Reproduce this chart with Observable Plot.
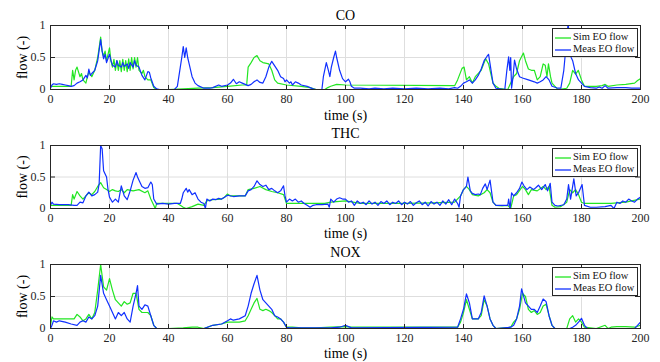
<!DOCTYPE html>
<html>
<head>
<meta charset="utf-8">
<script src="https://cdn.jsdelivr.net/npm/d3@7"></script>
<script src="https://cdn.jsdelivr.net/npm/@observablehq/plot@0.6"></script>
<style>
  html, body { margin: 0; padding: 0; background: #fff; }
  #wrap { width: 660px; height: 362px; position: relative; overflow: hidden; background: #fff; }
  .panel { position: relative; width: 660px; }
  .panel svg { display: block; overflow: visible; background: transparent; }
  .panel svg text { font-family: "Liberation Serif", "DejaVu Serif", serif !important; }
  .legend { position: absolute; left: 552px; width: 86px; height: 29px; background: #fff;
            border: 1px solid #262626; box-sizing: border-box; font-family: "Liberation Serif", "DejaVu Serif", serif;
            font-size: 10.5px; color: #111; z-index: 2; }
  .legend .row { position: absolute; left: 2px; height: 12px; line-height: 12px; white-space: nowrap; }
  .legend .row svg { display: inline-block; vertical-align: middle; margin-right: 2px; }
</style>
</head>
<body>
<div id="wrap"></div>
<script>
const xTicks = [0, 20, 40, 60, 80, 100, 120, 140, 160, 180, 200];
const yTicks = [0, 0.5, 1];
const titles = ["CO", "THC", "NOX"];
const seriesNames = ["Sim EO flow", "Meas EO flow"];
const simColor = "#22e622";
const measColor = "#1030ff";

const coMeas = [[0,0.02],[0.5,0.07],[1,0.09],[2,0.08],[3,0.09],[4,0.08],[5,0.07],[6,0.06],[7,0.05],[8,0.06],[9,0.1],[10,0.12],[11,0.15],[12,0.22],[12.5,0.18],[13,0.32],[13.5,0.22],[14,0.25],[15,0.3],[16,0.45],[17,0.78],[17.5,0.6],[18,0.48],[18.5,0.55],[19,0.42],[20,0.55],[20.5,0.45],[21,0.38],[22,0.35],[22.5,0.45],[23,0.38],[24,0.35],[24.5,0.42],[25,0.36],[26,0.4],[26.5,0.33],[27,0.42],[28,0.35],[28.5,0.45],[29,0.38],[30,0.35],[31,0.22],[32,0.15],[33,0.28],[33.5,0.27],[34,0.18],[35,0.05],[36,0.01],[37,0],[42,0],[43,0.05],[44,0.35],[44.5,0.5],[45,0.67],[45.5,0.5],[46,0.65],[46.5,0.5],[47,0.4],[48,0.2],[49,0.1],[50,0.06],[52,0.02],[54,0.02],[55,0.03],[57,0.07],[58,0.05],[60,0.07],[61,0.1],[62,0.16],[63,0.09],[64,0.12],[65,0.1],[67,0.06],[68,0.08],[69,0.12],[70,0.15],[71,0.11],[72,0.1],[73,0.2],[74,0.35],[75,0.44],[76,0.37],[77,0.3],[78,0.2],[79,0.17],[79.5,0.12],[80,0.15],[81,0.1],[81.5,0.12],[82,0.07],[83,0.12],[84,0.1],[85,0.07],[87,0.05],[88,0.03],[89,0.01],[90,0],[92,0],[92.5,0.2],[93.5,0.42],[94.2,0.3],[94.7,0.2],[95.2,0.35],[96,0.5],[96.6,0.6],[97,0.5],[98,0.3],[99,0.17],[100,0.12],[101,0.16],[101.5,0.12],[102,0.05],[103,0.02],[105,0.02],[108,0.01],[110,0.02],[113,0.01],[116,0.02],[120,0.01],[124,0.02],[128,0.01],[132,0.02],[135,0.01],[137,0.03],[138,0.02],[139,0.05],[140,0.1],[141,0.12],[142,0.15],[143,0.1],[144,0.15],[145,0.22],[146,0.32],[147,0.45],[148,0.52],[148.5,0.55],[149,0.4],[150,0.1],[151,0.02],[154,0],[154.7,0.3],[155.3,0.51],[155.7,0.3],[156,0.5],[156.3,0.02],[156.8,0.2],[157.3,0.46],[158,0.32],[159,0.2],[160,0.18],[162,0.15],[164,0.12],[165,0.1],[166,0.12],[167,0.15],[168,0.2],[169,0.15],[170,0.05],[172,0.02],[173,0.02],[174,0.3],[175,0.8],[175.5,1.05],[176,0.6],[176.5,0.5],[177,0.45],[178,0.25],[179,0.15],[180,0.1],[181,0.05],[183,0.03],[185,0.02],[186,0.04],[187,0.02],[188,0.06],[189,0.02],[192,0.03],[195,0.03],[197,0.02],[200,0.02]];
const coSim = [[0,0.05],[7,0.05],[7.5,0.3],[8,0.15],[8.5,0.3],[9,0.35],[10,0.2],[10.5,0.25],[11,0.15],[12,0.1],[12.5,0.2],[13,0.27],[14,0.2],[15,0.3],[16,0.5],[17,0.82],[17.5,0.6],[18,0.52],[18.5,0.6],[19,0.45],[19.5,0.55],[20,0.65],[20.5,0.45],[21,0.35],[21.5,0.47],[22,0.3],[22.5,0.45],[23,0.3],[23.5,0.45],[24,0.28],[24.5,0.47],[25,0.3],[25.5,0.45],[26,0.28],[26.5,0.48],[27,0.3],[27.5,0.5],[28,0.32],[28.5,0.5],[29,0.35],[29.5,0.5],[30,0.3],[31,0.25],[31.5,0.3],[32,0.2],[33,0.15],[34,0.15],[35,0.03],[36,0],[40,0],[45,0.01],[50,0.02],[55,0.03],[60,0.05],[65,0.07],[66.5,0.07],[67,0.35],[68,0.42],[69,0.5],[70,0.53],[71,0.45],[72,0.42],[74,0.4],[75,0.3],[76,0.15],[77,0.1],[80,0.07],[85,0.05],[88,0.03],[90,0],[93,0],[94,0.03],[95,0.05],[97,0.08],[100,0.07],[137,0.06],[138,0.15],[139.5,0.33],[140.2,0.35],[141,0.15],[142,0.2],[143,0.1],[144,0.2],[146,0.3],[147.5,0.48],[148.5,0.4],[149,0.3],[150,0.1],[151,0.05],[152,0.02],[155,0],[156,0.1],[157,0.2],[158,0.25],[159,0.45],[160.3,0.57],[161,0.45],[162,0.32],[163,0.3],[164,0.3],[165,0.15],[166,0.2],[167,0.4],[167.7,0.38],[168.3,0.2],[168.8,0.4],[169.5,0.2],[170,0.1],[171,0.05],[172,0],[175,0.02],[176,0.1],[177,0.3],[178,0.24],[178.9,0.3],[180,0.15],[181,0.05],[183,0.05],[185,0.05],[187,0.06],[188,0.08],[189,0.05],[192,0.07],[195,0.08],[198,0.1],[199,0.14],[200,0.17]];

const thcMeas = [[0,0.05],[0.5,0.1],[1,0.07],[3,0.06],[6,0.06],[8,0.05],[9,0.05],[10,0.1],[11,0.09],[12,0.2],[13,0.26],[14,0.2],[15,0.22],[16,0.26],[16.5,0.4],[17,1.0],[17.5,0.95],[18,0.6],[19,0.5],[19.5,0.3],[20,0.18],[21,0.1],[22,0.15],[23,0.1],[24,0.36],[25,0.2],[26,0.14],[27,0.28],[28,0.45],[29,0.57],[29.5,0.5],[30,0.45],[31,0.35],[32,0.32],[33,0.33],[34,0.42],[34.5,0.38],[35,0.15],[36,0.07],[38,0.08],[40,0.07],[42,0.08],[44,0.08],[44.5,0.15],[45,0.25],[46,0.32],[46.5,0.26],[47,0.3],[48,0.22],[49,0.25],[50,0.15],[51,0.1],[52,0.08],[52.5,0],[53,0.15],[54,0.12],[55,0.15],[56,0.14],[57,0.16],[58,0.15],[59,0.18],[60,0.21],[62,0.19],[64,0.2],[66,0.2],[67,0.28],[68,0.3],[69,0.35],[70,0.44],[71,0.38],[72,0.35],[73,0.37],[74,0.3],[75,0.32],[76,0.28],[77,0.25],[78,0.28],[79,0.36],[79.5,0.2],[80,0.1],[81,0.15],[82,0.12],[83,0.15],[84,0.1],[85,0.12],[86,0.08],[87,0.05],[88,0.02],[89,0.05],[90,0.06],[92,0.06],[94,0.07],[94.5,0.02],[95,0.15],[96,0.1],[97,0.15],[98,0.17],[99,0.15],[100,0.15],[101,0.1],[102,0.12],[103,0.05],[104,0.12],[105,0.08],[106,0.1],[107,0.06],[108,0.12],[109,0.07],[110,0.1],[111,0.05],[112,0.11],[113,0.08],[114,0.12],[115,0.06],[116,0.1],[117,0.08],[118,0.12],[119,0.06],[120,0.1],[121,0.07],[122,0.11],[123,0.05],[124,0.09],[125,0.12],[126,0.06],[127,0.1],[128,0.04],[129,0.11],[130,0.07],[131,0.1],[132,0.05],[133,0.12],[134,0.07],[135,0.14],[136,0.06],[137,0.15],[138,0.08],[138.5,0.02],[139,0.2],[140,0.3],[141,0.35],[141.5,0.5],[142.3,0.28],[143,0.24],[144,0.22],[145,0.23],[145.7,0.22],[146.5,0.32],[147.4,0.39],[148,0.3],[149,0.45],[150,0.1],[151,0.05],[153,0.05],[155,0.05],[155.3,0.15],[155.8,0],[156.3,0.25],[157,0.2],[158,0.25],[159,0.32],[159.8,0.42],[160.5,0.36],[161.5,0.3],[162.5,0.34],[163.7,0.3],[164.5,0.33],[165.4,0.37],[166.5,0.3],[167.7,0.38],[168.5,0.28],[169.4,0.4],[170,0.1],[171,0.05],[172,0.04],[174,0.06],[175,0.15],[175.6,0.38],[176.3,0.15],[177.4,0.47],[178.2,0.2],[179,0.25],[180.2,0.38],[181,0.05],[183,0.02],[185,0.02],[188,0.03],[190,0.05],[191,0],[192,0.1],[193,0.08],[194,0.12],[195,0.1],[196,0.15],[197,0.12],[198,0.1],[199,0.15],[200,0.18]];
const thcSim = [[0,0.05],[7,0.05],[7.5,0.22],[8,0.15],[9,0.27],[10,0.2],[11,0.15],[12,0.2],[13,0.25],[14,0.22],[15,0.27],[16,0.35],[17,0.41],[18,0.33],[19,0.3],[20,0.27],[21,0.3],[22,0.28],[23,0.27],[24,0.3],[25,0.25],[26,0.3],[28,0.28],[30,0.3],[32,0.25],[33,0.28],[34,0.15],[35,0.05],[35.5,0],[36,0.08],[40,0.08],[43,0.08],[44,0.05],[45,0.02],[46,0],[48,0.03],[50,0.07],[52,0.05],[53,0.12],[55,0.14],[58,0.15],[59,0.18],[60,0.23],[61,0.2],[63,0.2],[66,0.2],[67,0.3],[69,0.32],[71,0.35],[73,0.3],[75,0.27],[77,0.25],[79,0.22],[80,0.08],[85,0.08],[88,0.08],[90,0.08],[93,0.08],[95,0.1],[100,0.12],[105,0.08],[110,0.08],[120,0.08],[130,0.09],[137,0.1],[139,0.2],[140,0.3],[141,0.35],[142,0.3],[143,0.22],[145,0.2],[147,0.25],[148,0.3],[149,0.25],[150,0.1],[151,0.05],[153,0.04],[155,0.05],[156,0],[157,0.2],[158,0.22],[160,0.35],[161,0.3],[162,0.22],[163,0.3],[165,0.28],[167,0.35],[168,0.3],[169,0.35],[170,0.05],[171,0.02],[173,0.03],[175,0.1],[176,0.3],[177,0.25],[178,0.3],[179,0.22],[180,0.1],[181,0.08],[185,0.08],[190,0.08],[195,0.1],[200,0.15]];

const noxMeas = [[0,0],[0.5,0.05],[1,0.12],[2,0.1],[3,0.12],[5,0.1],[7,0.07],[9,0.05],[10,0.1],[11,0.12],[12,0.1],[13,0.18],[14,0.15],[15,0.2],[16,0.35],[17,0.83],[18,0.55],[19,0.45],[20,0.35],[21,0.25],[22,0.15],[23,0.25],[24,0.2],[25,0.25],[26,0.15],[27,0.1],[28,0.35],[29,0.55],[29.5,0.67],[30,0.35],[31,0.3],[32,0.37],[33,0.35],[34,0.2],[35,0.05],[36,0],[50,0],[52,0],[55,0.05],[58,0.07],[60,0.12],[61,0.15],[62,0.13],[64,0.15],[66,0.2],[67,0.35],[68,0.55],[69,0.7],[70,0.83],[71,0.6],[72,0.45],[73,0.4],[74,0.35],[75,0.3],[76,0.2],[77,0.18],[78,0.15],[79,0.1],[80,0.02],[81,0.01],[95,0.01],[98,0.02],[100,0.05],[101,0.03],[102,0.01],[138,0.02],[139,0.15],[140,0.3],[141,0.54],[142,0.4],[143,0.15],[145,0.15],[146,0.25],[147,0.51],[148,0.35],[149,0.15],[150,0.05],[151,0],[156,0.02],[157,0.05],[158,0.15],[159,0.35],[159.7,0.62],[161,0.4],[162,0.35],[163,0.3],[164,0.3],[165,0.25],[166,0.35],[167,0.46],[168,0.42],[169,0.2],[170,0.05],[171,0],[176,0],[177,0.02],[178,0.05],[179,0.1],[180,0.16],[181,0.05],[182,0],[198,0],[199,0.05],[200,0.1]];
const noxSim = [[0,0.05],[0.5,0.18],[1,0.15],[3,0.15],[5,0.15],[7,0.15],[8,0.15],[9,0.22],[10,0.18],[11,0.12],[12,0.15],[13,0.22],[14,0.15],[15,0.25],[16,0.6],[17,1.0],[18,0.65],[19,0.6],[20,0.78],[21,0.6],[22,0.45],[23,0.4],[24,0.35],[25,0.42],[26,0.38],[27,0.4],[28,0.55],[29,0.55],[30,0.3],[31,0.25],[32,0.25],[33,0.25],[34,0.2],[35,0.05],[36,0],[40,0],[45,0.01],[48,0.02],[50,0.02],[52,0],[55,0.05],[58,0.07],[60,0.1],[62,0.1],[64,0.1],[66,0.12],[67,0.2],[68,0.3],[69,0.4],[70,0.47],[71,0.3],[72,0.28],[73,0.3],[74,0.28],[75,0.25],[76,0.2],[77,0.15],[78,0.15],[79,0.1],[80,0.02],[82,0.02],[85,0.01],[90,0.01],[95,0.02],[100,0.03],[102,0.02],[138,0.02],[139,0.1],[140,0.25],[141,0.45],[142,0.3],[143,0.15],[145,0.15],[146,0.2],[147,0.45],[148,0.35],[149,0.15],[150,0.05],[151,0],[156,0.02],[157,0.1],[158,0.15],[159,0.3],[160,0.55],[161,0.5],[162,0.3],[163,0.25],[164,0.28],[165,0.22],[166,0.25],[167,0.35],[168,0.38],[169,0.2],[170,0.05],[171,0],[175,0],[176,0.15],[177,0.2],[178,0.1],[179,0.15],[180,0.1],[181,0.02],[185,0],[188,0.05],[189,0],[190,0.02],[192,0.03],[195,0.03],[198,0.02],[200,0.05]];

const panels = [
  {title: titles[0], sim: coSim, meas: coMeas, height: 120, mt: 25, mb: 31, tdy: -10, xdy: 26},
  {title: titles[1], sim: thcSim, meas: thcMeas, height: 120, mt: 25, mb: 32, tdy: -12, xdy: 25},
  {title: titles[2], sim: noxSim, meas: noxMeas, height: 122, mt: 24, mb: 34, tdy: -12, xdy: 25}
];

const wrap = document.getElementById("wrap");
const ML = 50, MR = 20, W = 660;
const plotW = W - ML - MR;
const axisColor = "#262626";
const serif = "'Liberation Serif', 'DejaVu Serif', serif";

function swatch(color) {
  return `<svg width="16" height="4"><line x1="0" x2="16" y1="2" y2="2" stroke="${color}" stroke-width="1.3"/></svg>`;
}

for (const p of panels) {
  const plotH = p.height - p.mt - p.mb;
  const chart = Plot.plot({
    width: W, height: p.height,
    marginLeft: ML, marginRight: MR, marginTop: p.mt, marginBottom: p.mb,
    style: {fontFamily: serif, fontSize: "12px", color: axisColor, background: "transparent", overflow: "visible"},
    x: {domain: [0, 200], axis: null},
    y: {domain: [0, 1], axis: null},
    marks: [
      Plot.gridX(xTicks, {stroke: "#dedede", strokeOpacity: 1}),
      Plot.gridY(yTicks, {stroke: "#dedede", strokeOpacity: 1}),
      Plot.line(p.sim, {x: d => d[0], y: d => d[1], stroke: simColor, strokeWidth: 1.2, clip: true}),
      Plot.line(p.meas, {x: d => d[0], y: d => d[1], stroke: measColor, strokeWidth: 1.2, clip: true}),
      Plot.ruleX(xTicks, {x: d => d, insetTop: plotH - 4, stroke: axisColor}),
      Plot.ruleX(xTicks, {x: d => d, insetBottom: plotH - 4, stroke: axisColor}),
      Plot.ruleY(yTicks, {y: d => d, insetRight: plotW - 5, stroke: axisColor}),
      Plot.ruleY(yTicks, {y: d => d, insetLeft: plotW - 5, stroke: axisColor}),
      Plot.frame({stroke: axisColor, strokeWidth: 1}),
      Plot.axisX(xTicks, {tickSize: 0, tickPadding: 5, fontSize: 12, fill: axisColor, label: null, fontFamily: serif}),
      Plot.axisY(yTicks, {tickSize: 0, tickPadding: 5, fontSize: 12, fill: axisColor, label: null, fontFamily: serif, tickFormat: d => String(d)}),
      Plot.text([p.title], {frameAnchor: "top", lineAnchor: "middle", dy: p.tdy, fontSize: 14, fill: "#000", fontFamily: serif}),
      Plot.text(["time (s)"], {frameAnchor: "bottom", lineAnchor: "middle", dy: p.xdy, fontSize: 14, fill: "#000", fontFamily: serif}),
      Plot.text(["flow (-)"], {frameAnchor: "left", textAnchor: "middle", lineAnchor: "middle", dx: -28, rotate: -90, fontSize: 14, fill: "#000", fontFamily: serif})
    ]
  });
  const div = document.createElement("div");
  div.className = "panel";
  div.style.height = p.height + "px";
  div.appendChild(chart);
  const leg = document.createElement("div");
  leg.className = "legend";
  leg.style.top = (p.mt + 3) + "px";
  leg.innerHTML =
    `<div class="row" style="top:2px">${swatch(simColor)}${seriesNames[0]}</div>` +
    `<div class="row" style="top:14px">${swatch(measColor)}${seriesNames[1]}</div>`;
  div.appendChild(leg);
  wrap.appendChild(div);
}
</script>
</body>
</html>
